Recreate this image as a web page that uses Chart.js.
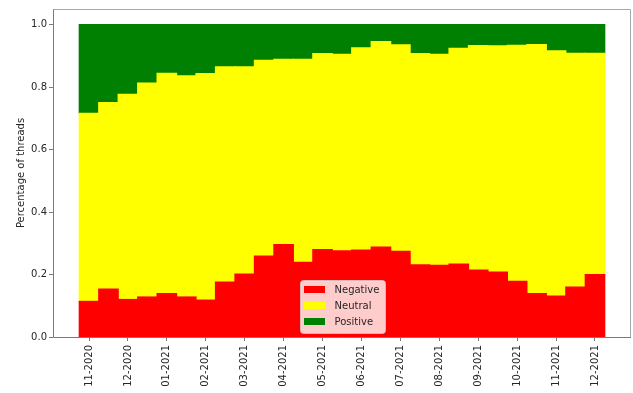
<!DOCTYPE html>
<html>
<head>
<meta charset="utf-8">
<script src="https://cdn.jsdelivr.net/npm/chart.js@4"></script>
<style>
  html, body { margin: 0; padding: 0; background: #ffffff; }
  canvas { display: block; }
</style>
</head>
<body>
<canvas id="chart" width="633" height="393"></canvas>
<script>
// Half-month periods, November 2020 to December 2021
const periods = [
  '2020-11-01', '2020-11-15', '2020-12-01', '2020-12-15', '2021-01-01', '2021-01-15',
  '2021-02-01', '2021-02-15', '2021-03-01', '2021-03-15', '2021-04-01', '2021-04-15',
  '2021-05-01', '2021-05-15', '2021-06-01', '2021-06-15', '2021-07-01', '2021-07-15',
  '2021-08-01', '2021-08-15', '2021-09-01', '2021-09-15', '2021-10-01', '2021-10-15',
  '2021-11-01', '2021-11-15', '2021-12-01'
];

// Month labels shown under every second period
const tickLabels = [
  '11-2020', '12-2020', '01-2021', '02-2021', '03-2021', '04-2021', '05-2021',
  '06-2021', '07-2021', '08-2021', '09-2021', '10-2021', '11-2021', '12-2021'
];

const yTicks = [0, 0.2, 0.4, 0.6, 0.8, 1.0];

// Share of threads per sentiment in each period
const negative = [
  0.114, 0.153, 0.120, 0.128, 0.139, 0.128, 0.118, 0.176, 0.201, 0.259,
  0.296, 0.239, 0.280, 0.276, 0.278, 0.288, 0.274, 0.231, 0.229, 0.233,
  0.214, 0.208, 0.178, 0.139, 0.131, 0.160, 0.200
];
const neutral = [
  0.602, 0.597, 0.657, 0.685, 0.705, 0.708, 0.725, 0.689, 0.664, 0.627,
  0.593, 0.650, 0.627, 0.629, 0.648, 0.658, 0.661, 0.676, 0.676, 0.691,
  0.719, 0.724, 0.756, 0.797, 0.785, 0.748, 0.708
];
const positive = [
  0.284, 0.250, 0.223, 0.187, 0.156, 0.164, 0.157, 0.135, 0.135, 0.114,
  0.111, 0.111, 0.093, 0.095, 0.074, 0.054, 0.065, 0.093, 0.095, 0.076,
  0.067, 0.068, 0.066, 0.064, 0.084, 0.092, 0.092
];

const toPoints = arr => arr.map((v, i) => ({ x: i, y: v }));

Chart.defaults.font.family = "'DejaVu Sans', sans-serif";
Chart.defaults.font.size = 10;
Chart.defaults.color = '#262626';

// Frame around the plotting area
const framePlugin = {
  id: 'frame',
  afterDatasetsDraw(chart) {
    const { ctx, chartArea: a } = chart;
    ctx.save();
    ctx.lineWidth = 1;
    ctx.strokeStyle = '#7a7a7a';
    ctx.beginPath();
    ctx.moveTo(Math.floor(a.left) + 0.5, a.top);
    ctx.lineTo(Math.floor(a.left) + 0.5, Math.round(a.bottom) + 0.5);
    ctx.lineTo(a.right, Math.round(a.bottom) + 0.5);
    ctx.stroke();
    ctx.strokeStyle = '#a8a8a8';
    ctx.beginPath();
    ctx.moveTo(Math.floor(a.left) + 0.5, Math.floor(a.top) + 0.5);
    ctx.lineTo(Math.floor(a.right) - 0.5, Math.floor(a.top) + 0.5);
    ctx.lineTo(Math.floor(a.right) - 0.5, a.bottom);
    ctx.stroke();
    ctx.restore();
  }
};

// Legend box drawn inside the plot, lower centre
const insideLegend = {
  id: 'insideLegend',
  afterDraw(chart) {
    const { ctx, chartArea: a } = chart;
    const w = 85, h = 53;
    const x = Math.round((a.left + a.right) / 2 - w / 2) + 0.5;
    const y = Math.round(a.bottom - 4 - h) + 0.5;
    ctx.save();
    ctx.beginPath();
    if (ctx.roundRect) ctx.roundRect(x, y, w, h, 3); else ctx.rect(x, y, w, h);
    ctx.fillStyle = 'rgba(255,255,255,0.8)';
    ctx.fill();
    ctx.strokeStyle = 'rgba(204,204,204,0.8)';
    ctx.lineWidth = 1;
    ctx.stroke();
    ctx.font = "10px 'DejaVu Sans', sans-serif";
    ctx.textBaseline = 'middle';
    ctx.textAlign = 'left';
    chart.data.datasets.forEach((ds, i) => {
      const cy = y + 9 + i * 16.2;
      ctx.fillStyle = ds.backgroundColor;
      ctx.fillRect(Math.round(x + 3.5), Math.round(cy - 3.5), 21, 7);
      ctx.fillStyle = '#262626';
      ctx.fillText(ds.label, x + 34, cy + 0.5);
    });
    ctx.restore();
  }
};

new Chart(document.getElementById('chart'), {
  type: 'bar',
  data: {
    datasets: [
      { label: 'Negative', data: toPoints(negative), backgroundColor: '#ff0000' },
      { label: 'Neutral',  data: toPoints(neutral),  backgroundColor: '#ffff00' },
      { label: 'Positive', data: toPoints(positive), backgroundColor: '#008000' }
    ]
  },
  options: {
    responsive: false,
    animation: false,
    devicePixelRatio: 1,
    layout: { padding: { top: 9, right: 2, left: 0, bottom: 0 } },
    datasets: {
      bar: { barPercentage: 1, categoryPercentage: 1, borderWidth: 0, inflateAmount: 0.6 }
    },
    plugins: {
      legend: { display: false },
      tooltip: { enabled: false }
    },
    scales: {
      x: {
        type: 'linear',
        stacked: true,
        offset: false,
        min: -1.85,
        max: periods.length - 1 + 1.85,
        border: { display: false },
        grid: {
          drawOnChartArea: false,
          drawTicks: true,
          tickLength: 4,
          tickColor: '#7a7a7a',
          offset: false
        },
        afterBuildTicks(scale) {
          scale.ticks = tickLabels.map((_, i) => ({ value: i * 2 }));
        },
        afterFit(scale) { scale.height = 56; },
        ticks: {
          autoSkip: false,
          minRotation: 90,
          maxRotation: 90,
          padding: 4,
          color: '#262626',
          callback: (value, index) => tickLabels[index]
        }
      },
      y: {
        stacked: true,
        min: 0,
        max: 1.05,
        border: { display: false },
        grid: {
          drawOnChartArea: false,
          drawTicks: true,
          tickLength: 4,
          tickColor: '#7a7a7a'
        },
        afterBuildTicks(scale) {
          scale.ticks = yTicks.map(v => ({ value: v }));
        },
        afterFit(scale) { scale.width = 53; },
        ticks: {
          padding: 2,
          color: '#262626',
          callback: value => Number(value).toFixed(1)
        },
        title: {
          display: true,
          text: 'Percentage of threads',
          color: '#262626',
          padding: { top: 15, bottom: 0 },
          font: { size: 10 }
        }
      }
    }
  },
  plugins: [framePlugin, insideLegend]
});
</script>
</body>
</html>
